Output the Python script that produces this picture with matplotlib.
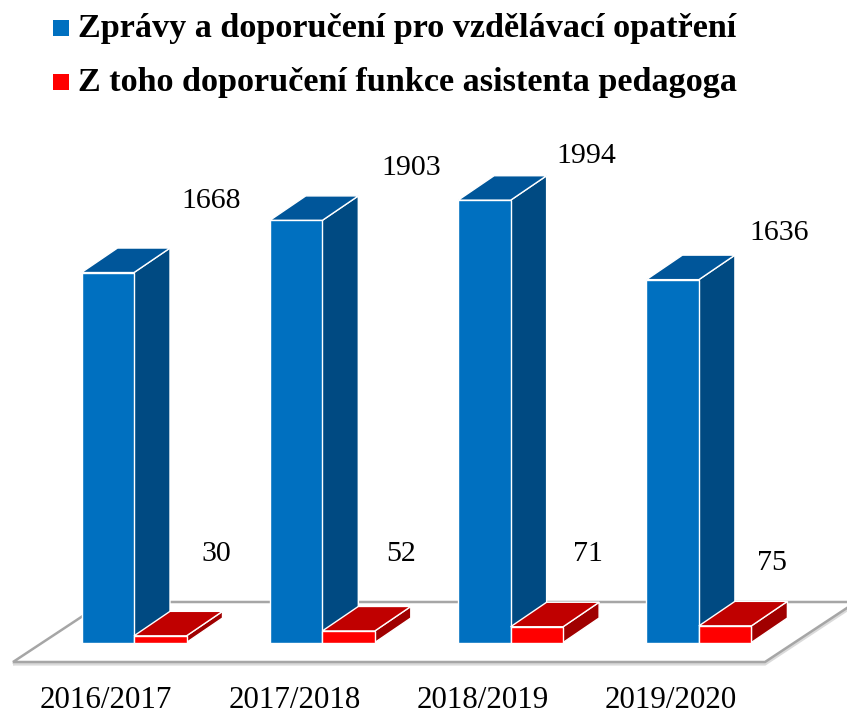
import matplotlib
matplotlib.use("Agg")
import matplotlib.pyplot as plt
from matplotlib.patches import Polygon, Rectangle

# ---- data ----
categories = ["2016/2017", "2017/2018", "2018/2019", "2019/2020"]
reports = [1668, 1903, 1994, 1636]
assistant = [30, 52, 71, 75]
series_names = ["Zprávy a doporučení pro vzdělávací opatření",
                "Z toho doporučení funkce asistenta pedagoga"]

# ---- style ----
blue_front, blue_top, blue_side = "#0070C0", "#00569A", "#004A82"
red_front, red_top, red_side = "#FF0000", "#C00000", "#A00000"
plt.rcParams["font.family"] = ["Liberation Serif", "DejaVu Serif"]

W, H = 847, 713
fig = plt.figure(figsize=(W / 100, H / 100), dpi=100)
ax = fig.add_axes([0, 0, 1, 1])

# pixel mapping helpers (axes scale chosen to place plot like reference)
PX_PER_CAT = 188.3
PX_PER_VAL = 0.2218
X0_PX = 134.0         # boundary between blue and red bar of first group
Y0_PX = H - 642.5     # baseline (figure px from bottom)
ax.set_xlim(-X0_PX / PX_PER_CAT, (W - X0_PX) / PX_PER_CAT)
ax.set_ylim(-Y0_PX / PX_PER_VAL, (H - Y0_PX) / PX_PER_VAL)
ax.axis("off")

def dxp(px):
    return px / PX_PER_CAT

def dyp(px):
    return px / PX_PER_VAL

bw = dxp(52.5)
ddx, ddy = dxp(36), dyp(24.5)

# floor
f_front = -dyp(19.5)
f_back = f_front + dyp(60)
fl = [(dxp(13 - X0_PX), f_front), (dxp(765 - X0_PX), f_front),
      (dxp(765 - X0_PX) + dxp(91), f_back), (dxp(13 - X0_PX) + dxp(91), f_back)]
shadow = [(x, y - dyp(2.2)) for x, y in fl]
ax.add_patch(Polygon(shadow, closed=True, facecolor="none", edgecolor="#dadada", lw=2.0, zorder=1))
ax.add_patch(Polygon(fl, closed=True, facecolor="white", edgecolor="#a6a6a6", lw=1.8, zorder=2))

def bar3d(left, val, front, top, side, z):
    ax.bar(left, val, width=bw, align="edge", color=front, edgecolor="white", lw=1.0, zorder=z + 0.2)
    r = left + bw
    ax.add_patch(Polygon([(r, 0), (r + ddx, ddy), (r + ddx, val + ddy), (r, val)],
                         closed=True, facecolor=side, edgecolor="white", lw=1.0, zorder=z))
    ax.add_patch(Polygon([(left, val), (r, val), (r + ddx, val + ddy), (left + ddx, val + ddy)],
                         closed=True, facecolor=top, edgecolor="white", lw=1.0, zorder=z + 0.1))

for i in range(len(categories)):
    bar3d(i - bw, reports[i], blue_front, blue_top, blue_side, 3 + 2 * i)
    bar3d(i, assistant[i], red_front, red_top, red_side, 4 + 2 * i)

# value labels (pixel offsets from the bar front top-left corner)
blue_off = [(129.5, 71.5), (141, 52.4), (128.4, 44.2), (133, 46.6)]
red_off = [(82, 82), (79, 77), (77, 73), (73, 63)]
for i in range(len(categories)):
    ax.annotate(str(reports[i]), xy=(i - bw, reports[i]), xytext=blue_off[i],
                textcoords="offset pixels", ha="center", va="center", fontsize=21.5, zorder=20)
    ax.annotate(str(assistant[i]), xy=(i, assistant[i]), xytext=red_off[i],
                textcoords="offset pixels", ha="center", va="center", fontsize=21.5, zorder=20)

# category labels
for i, c in enumerate(categories):
    ax.text(i - dxp(28), -dyp(Y0_PX - 13), c, ha="center", va="center", fontsize=22.3)

# legend (manual, pixel positioned)
leg_colors = [blue_front, red_front]
leg_baselines = [36.5, 90.5]
for col, name, base in zip(leg_colors, series_names, leg_baselines):
    fig.add_artist(Rectangle((53 / W, 1 - (base - 1) / H), 16 / W, 16 / H,
                             transform=fig.transFigure, facecolor=col, edgecolor="none"))
    fig.text(78 / W, 1 - base / H, name, ha="left", va="baseline",
             fontsize=24.6, fontweight="bold")

fig.savefig("out.png", dpi=100)
